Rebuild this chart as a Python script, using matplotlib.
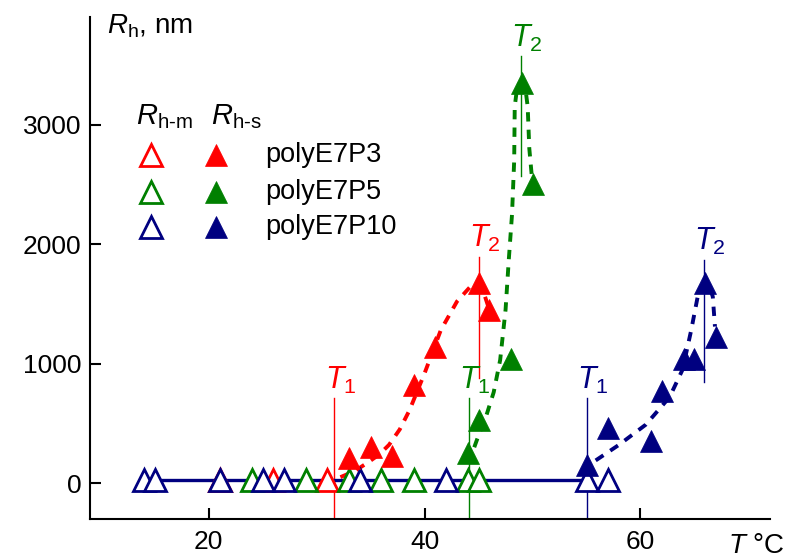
import matplotlib
matplotlib.use("Agg")
import matplotlib.pyplot as plt

plt.rcParams['font.family'] = ['Liberation Sans', 'DejaVu Sans']
plt.rcParams['mathtext.fontset'] = 'custom'
plt.rcParams['mathtext.rm'] = 'Liberation Sans'
plt.rcParams['mathtext.it'] = 'Liberation Sans:italic'

RED, GREEN, NAVY = '#ff0000', '#008000', '#000080'

# R_h-m (open triangles)
t_m_red = [21, 26, 31]
r_m_red = [25, 25, 25]
t_m_green = [24, 29, 33, 36, 39, 44, 45]
r_m_green = [25, 25, 25, 25, 25, 25, 25]
t_m_navy = [14, 15, 21, 25, 27, 34, 42, 55, 57]
r_m_navy = [25, 25, 25, 25, 25, 25, 25, 25, 25]
line_t = [14, 55]
line_r = [25, 25]

# R_h-s (filled triangles)
t_s_red = [33, 35, 37, 39, 41, 45, 46]
r_s_red = [210, 300, 225, 825, 1135, 1675, 1450]
t_s_green = [44, 45, 48, 49, 50]
r_s_green = [255, 525, 1040, 3345, 2505]
t_s_navy = [55, 57, 61, 62, 64, 65, 66, 67]
r_s_navy = [150, 460, 350, 775, 1040, 1040, 1675, 1225]

# dashed guide curves
fit_t_red = [32.2, 33.5, 34.7, 35.8, 36.7, 37.7, 38.6, 40.0, 41.5, 43.0, 44.3, 45.0, 45.6, 46.0]
fit_r_red = [50, 100, 170, 240, 320, 450, 610, 920, 1280, 1520, 1650, 1675, 1560, 1450]
fit_t_green = [44.6, 45.0, 45.7, 46.4, 47.0, 47.5, 47.8, 48.1, 48.3, 48.35, 48.6, 48.9, 49.3, 49.55, 49.7, 50.0]
fit_r_green = [300, 400, 560, 760, 1030, 1450, 1870, 2250, 2700, 3150, 3330, 3345, 3330, 3150, 2800, 2500]
fit_t_navy = [55.85, 58.0, 60.5, 62.7, 63.9, 64.7, 65.3, 65.9, 66.4, 66.7, 66.9]
fit_r_navy = [190, 320, 490, 720, 950, 1280, 1560, 1675, 1640, 1560, 1310]

# transition temperatures
t1 = [31.65, 44.1, 55.0]
t1_top = 712
t2 = [45.0, 48.9, 65.9]
t2_top = [1895, 3574, 1869]
t2_bottom = [880, 2570, 849]
colors = [RED, GREEN, NAVY]
names = ['polyE7P3', 'polyE7P5', 'polyE7P10']

W, H = 787, 558
fig = plt.figure(figsize=(W / 100, H / 100), dpi=100)
ax = fig.add_axes([90 / W, 1 - 519 / H, 680 / W, 502 / H])
ax.set_xlim(9, 72)
ax.set_ylim(-300, 3900)

dash = (0, (2.4, 2.1))
ax.plot(fit_t_red, fit_r_red, color=RED, lw=2.8, ls=dash, zorder=2)
ax.plot(fit_t_green, fit_r_green, color=GREEN, lw=2.8, ls=dash, zorder=2)
ax.plot(fit_t_navy, fit_r_navy, color=NAVY, lw=2.8, ls=dash, zorder=2)

for x, c in zip(t1, colors):
    ax.plot([x, x], [-300, t1_top], color=c, lw=1.0, zorder=1)
    ax.text(x - 0.9, t1_top + 20, r'$T_{\rm 1}$', color=c, fontsize=22,
            ha='left', va='bottom')
for x, top, bot, c in zip(t2, t2_top, t2_bottom, colors):
    ax.plot([x, x], [bot, top], color=c, lw=1.0, zorder=1)
    ax.text(x - 0.9, top + 20, r'$T_{\rm 2}$', color=c, fontsize=22,
            ha='left', va='bottom')

ax.plot(line_t, line_r, color=NAVY, lw=2.4, zorder=3)

ms = 16
for t, r, c in [(t_m_red, r_m_red, RED), (t_m_green, r_m_green, GREEN),
                (t_m_navy, r_m_navy, NAVY)]:
    ax.plot(t, r, '^', ms=ms, mfc='white', mec=c, mew=2, ls='none', zorder=4)
for t, r, c in [(t_s_red, r_s_red, RED), (t_s_green, r_s_green, GREEN),
                (t_s_navy, r_s_navy, NAVY)]:
    ax.plot(t, r, '^', ms=ms, mfc=c, mec=c, mew=0.5, ls='none', zorder=5)

for s in ['top', 'right']:
    ax.spines[s].set_visible(False)
for s in ['left', 'bottom']:
    ax.spines[s].set_linewidth(1.5)
ax.set_xticks([20, 40, 60])
ax.set_yticks([0, 1000, 2000, 3000])
ax.tick_params(direction='in', width=1.5, length=8, labelsize=19)
ax.tick_params(axis='y', pad=6)
ax.tick_params(axis='x', pad=8)

# axis titles
fig.text(107 / W, 1 - 33 / H, r'$R_{\rm h}$, nm', fontsize=20, ha='left', va='baseline')
fig.text(785 / W, 1 - 553 / H, r'$T$ $\rm\degree C$', fontsize=20, ha='right', va='baseline')

# legend drawn by hand
fig.text(136 / W, 1 - 124 / H, r'$R_{\rm h\text{-}m}$', fontsize=21, ha='left', va='baseline')
fig.text(211 / W, 1 - 124 / H, r'$R_{\rm h\text{-}s}$', fontsize=21, ha='left', va='baseline')
rows = [155, 192, 227]
for py, c, name in zip(rows, colors, names):
    fy = 1 - py / H
    fig.lines.append(plt.Line2D([151 / W], [fy], marker='^', ms=ms, mfc='white', mec=c,
                                mew=2, transform=fig.transFigure))
    fig.lines.append(plt.Line2D([216 / W], [fy], marker='^', ms=ms, mfc=c, mec=c,
                                mew=0.5, transform=fig.transFigure))
    fig.text(265 / W, fy, name, fontsize=19.5, ha='left', va='center')

fig.savefig('out.png', dpi=100)
